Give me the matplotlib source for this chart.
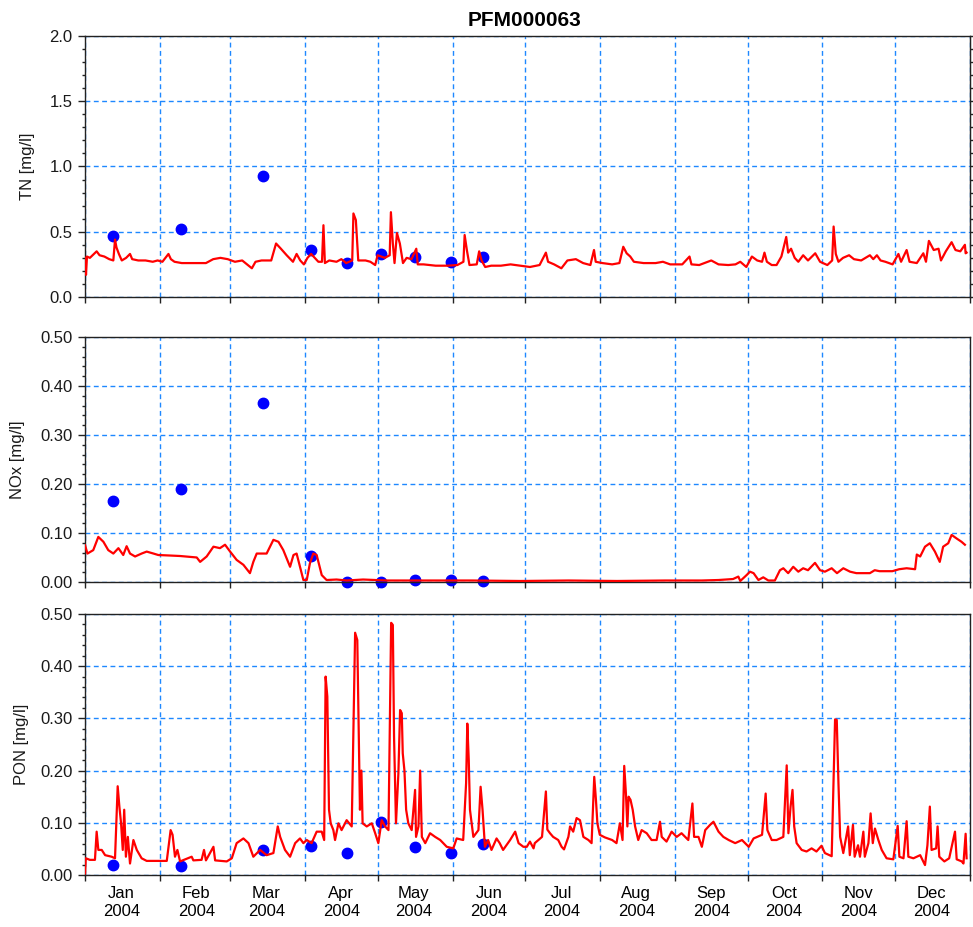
import numpy as np
import matplotlib
matplotlib.use("Agg")
from matplotlib import pyplot as plt
import matplotlib.dates as mdates
from matplotlib.ticker import MultipleLocator, FormatStrFormatter, NullFormatter

plt.rcParams['font.family'] = ['Liberation Sans', 'DejaVu Sans']
plt.rcParams['font.size'] = 12

START = np.datetime64('2004-01-01T00:00')

# measured samples (day of year offset, value)
sample_day = [11.5, 39.5, 73.5, 93.5, 108.5, 122.5, 136.5, 151.5, 164.5]
tn_obs = [0.47, 0.52, 0.93, 0.36, 0.26, 0.33, 0.305, 0.27, 0.305]
nox_obs = [0.165, 0.19, 0.365, 0.053, 0.0, 0.0, 0.004, 0.004, 0.002]
pon_obs = [0.019, 0.018, 0.048, 0.056, 0.043, 0.101, 0.054, 0.043, 0.06]

# model series: TN
tn_day = [0, 0.4, 0.8, 2, 4.8, 6, 8, 10, 11.7, 12.4, 13, 14, 15.2, 17, 18.6, 19.5, 22, 25, 28, 30,
          32, 34.5, 35.5, 37, 40, 45, 50, 53, 56, 59, 62, 65, 67, 69, 70.5, 73, 77, 79, 81, 83.4,
          86, 87.5, 89, 90.5, 92, 93.5, 95, 96.5, 98, 98.6, 99.2, 101, 104, 106, 108, 110.5, 111, 112, 113, 116,
          118, 120, 121, 124, 126, 126.5, 127.3, 128, 129, 130.2, 131.5, 133, 135, 137, 137.6, 140, 145, 150, 154, 156.5,
          157, 158, 159, 162, 163, 164, 165.5, 168, 172, 176, 180, 184, 188, 190.6, 191.5, 194, 197, 199.5, 203, 206,
          209, 210.5, 211.2, 214, 218, 221, 222.6, 224, 225.5, 227, 231, 236, 239, 242, 247, 250, 250.8, 254, 259, 262,
          266, 269, 271, 273.5, 275.8, 278, 280, 281, 282, 284, 286, 288, 290, 290.8, 292, 293.5, 295, 297, 299, 302,
          304, 307, 309, 309.6, 310.5, 311.6, 313.5, 316, 318, 321, 324.6, 326, 327.5, 329, 331, 334, 336.4, 337.5, 339.8, 341,
          344, 346.7, 347.8, 349, 351, 353, 354, 356, 358.4, 360, 362, 363.9, 364.2, 364.6]
tn_val = [0.30, 0.17, 0.31, 0.30, 0.35, 0.32, 0.31, 0.29, 0.28, 0.44, 0.38, 0.33, 0.28, 0.30, 0.33, 0.29, 0.28, 0.28, 0.27, 0.28,
          0.27, 0.33, 0.29, 0.27, 0.26, 0.26, 0.26, 0.29, 0.30, 0.29, 0.27, 0.28, 0.25, 0.22, 0.27, 0.28, 0.28, 0.41, 0.37, 0.32,
          0.27, 0.33, 0.28, 0.25, 0.30, 0.33, 0.30, 0.27, 0.27, 0.55, 0.26, 0.28, 0.27, 0.29, 0.26, 0.28, 0.64, 0.59, 0.28, 0.28,
          0.27, 0.245, 0.32, 0.30, 0.32, 0.65, 0.41, 0.26, 0.49, 0.41, 0.26, 0.30, 0.29, 0.37, 0.25, 0.25, 0.24, 0.24, 0.245, 0.27,
          0.475, 0.35, 0.245, 0.25, 0.35, 0.28, 0.23, 0.24, 0.24, 0.25, 0.24, 0.23, 0.245, 0.34, 0.27, 0.25, 0.22, 0.28, 0.29, 0.26,
          0.245, 0.36, 0.27, 0.26, 0.25, 0.26, 0.385, 0.335, 0.31, 0.27, 0.26, 0.26, 0.27, 0.25, 0.25, 0.31, 0.25, 0.245, 0.28, 0.25,
          0.245, 0.25, 0.27, 0.23, 0.31, 0.28, 0.27, 0.34, 0.27, 0.245, 0.245, 0.31, 0.46, 0.34, 0.37, 0.30, 0.27, 0.32, 0.28, 0.335,
          0.27, 0.245, 0.28, 0.54, 0.33, 0.27, 0.30, 0.32, 0.29, 0.28, 0.32, 0.29, 0.32, 0.28, 0.27, 0.25, 0.33, 0.27, 0.36, 0.27,
          0.26, 0.335, 0.27, 0.43, 0.36, 0.37, 0.28, 0.35, 0.42, 0.36, 0.35, 0.40, 0.335, 0.34]

# model series: NOx
nox_day = [0, 1, 3.4, 5.5, 7.6, 9.6, 11.7, 13.8, 15.8, 17.2, 18.6, 20.7, 23.4, 25.5, 28.3, 30.3, 35, 39.3, 46.2, 47.6,
           50.3, 53.1, 55.8, 57.9, 60, 62.7, 65.5, 68.2, 69.6, 71, 75.1, 77.9, 80, 82, 84.8, 86.2, 87.5, 88.9, 90.3, 91.7,
           93, 94.4, 95.8, 97.9, 99.9, 104, 108.2, 115, 125, 140, 160, 180, 200, 220, 240, 255, 262, 268, 270.2, 271,
           273.6, 275, 276.5, 278.5, 280.5, 282.6, 285.3, 287.4, 288.8, 290.8, 292.9, 295, 297, 299, 301.9, 304, 306, 308.8, 311, 313.6,
           316.4, 319, 324.6, 326.6, 328.6, 333.9, 336.7, 339.8, 343.3, 344, 345.4, 347.4, 349.4, 351.5, 353.5, 354.9, 357, 358.4, 360.4, 362.5,
           363.9]
nox_val = [0.075, 0.058, 0.065, 0.092, 0.082, 0.065, 0.058, 0.069, 0.055, 0.073, 0.058, 0.052, 0.058, 0.062, 0.058, 0.055, 0.054, 0.053, 0.050, 0.041,
           0.052, 0.072, 0.069, 0.076, 0.062, 0.045, 0.035, 0.018, 0.041, 0.058, 0.058, 0.086, 0.082, 0.065, 0.031, 0.055, 0.058, 0.031, 0.004, 0.004,
           0.038, 0.058, 0.055, 0.014, 0.004, 0.005, 0.003, 0.005, 0.003, 0.003, 0.003, 0.002, 0.003, 0.002, 0.003, 0.003, 0.004, 0.006, 0.011, 0.002,
           0.014, 0.021, 0.018, 0.004, 0.0095, 0.003, 0.003, 0.024, 0.028, 0.018, 0.031, 0.021, 0.028, 0.024, 0.039, 0.024, 0.021, 0.028, 0.018, 0.028,
           0.021, 0.018, 0.018, 0.024, 0.022, 0.022, 0.026, 0.028, 0.026, 0.056, 0.052, 0.072, 0.079, 0.062, 0.041, 0.072, 0.079, 0.096, 0.089, 0.082,
           0.076]

# model series: PON
pon_day = [0, 0.3, 2, 4.1, 4.8, 5.5, 6.9, 8.3, 11, 12.4, 13.5, 14.2, 14.9, 15.6, 16.2, 16.9, 17.7, 18.6, 20, 21.4,
           23.4, 25.5, 30, 33.8, 35.4, 36.2, 37.2, 38.2, 39.3, 44.1, 44.8, 48.2, 49.2, 50, 53.1, 53.8, 58.6, 60.7, 62.7, 65.5,
           67.6, 69.6, 72.4, 75.1, 77.9, 79.7, 80.7, 82.7, 84.8, 86.9, 88.9, 90.3, 91.7, 93.7, 95.8, 97.9, 98.9, 99.5, 100.2, 100.9,
           101.6, 102.7, 103.4, 104.8, 106.1, 108.2, 110.3, 111.7, 112.6, 113.7, 114.3, 114.8, 116.5, 118.6, 120, 121.3, 122.7, 124.1, 125.5, 126.6,
           127.3, 127.8, 128.6, 129.6, 130.3, 131, 131.4, 132.1, 132.8, 133.7, 135.1, 136.5, 136.9, 137.9, 138.6, 139.3, 140.7, 142.7, 144.8, 146.9,
           149.6, 152.3, 153.7, 156.4, 157.6, 158.1, 158.7, 159.2, 160.6, 162.7, 163.6, 164.4, 165.4, 166.7, 168.1, 170.2, 171.5, 172.9, 175.8, 177.9,
           179.3, 181.3, 182.7, 184, 185.5, 186, 187.5, 189, 190.6, 191.2, 192.3, 193.6, 195.7, 197.1, 198.1, 199.9, 200.6, 201.9, 203.3, 204.7,
           206.1, 208.2, 209.5, 210.6, 211.3, 211.9, 212.9, 215, 218, 219.8, 221.2, 222.3, 223, 223.7, 224.3, 224.8, 225.6, 226.5, 227.5, 228.8,
           230.2, 232.3, 234.3, 236.4, 237.8, 238.5, 240.5, 242.6, 244.7, 246.7, 249.5, 251.2, 251.9, 253.7, 255.1, 256.5, 258.5, 259.9, 262, 264,
           266.2, 268.9, 271.7, 274.5, 276.5, 280, 281.5, 282.2, 284, 286, 288.8, 290.2, 290.9, 291.8, 292.6, 293.3, 294.3, 296.4, 298.4, 300.5,
           302.5, 304.6, 306, 308.8, 310.2, 310.9, 311.6, 312.3, 313.6, 315.6, 316.3, 317.6, 318.3, 319.7, 320.5, 321.9, 322.5, 324, 324.9, 325.8,
           326.7, 328.1, 329.5, 331.5, 334.3, 336.1, 336.8, 338.5, 339.8, 340.5, 342.6, 345.4, 347.4, 348.4, 349.4, 350.1, 352, 352.6, 353.3, 355.4,
           357.4, 359.8, 360.5, 362.6, 363.3, 364.2, 364.6]
pon_val = [0.003, 0.032, 0.029, 0.029, 0.083, 0.048, 0.048, 0.038, 0.035, 0.032, 0.17, 0.131, 0.099, 0.048, 0.125, 0.035, 0.073, 0.022, 0.067, 0.048,
           0.032, 0.027, 0.027, 0.027, 0.086, 0.077, 0.035, 0.048, 0.026, 0.035, 0.028, 0.029, 0.048, 0.028, 0.054, 0.028, 0.026, 0.032, 0.061, 0.070,
           0.061, 0.035, 0.048, 0.038, 0.042, 0.093, 0.073, 0.048, 0.035, 0.061, 0.070, 0.061, 0.067, 0.061, 0.083, 0.083, 0.067, 0.38, 0.342, 0.125,
           0.099, 0.086, 0.067, 0.099, 0.086, 0.105, 0.093, 0.464, 0.45, 0.125, 0.20, 0.099, 0.093, 0.099, 0.08, 0.061, 0.105, 0.093, 0.086, 0.483,
           0.479, 0.265, 0.099, 0.195, 0.316, 0.31, 0.233, 0.20, 0.125, 0.099, 0.086, 0.163, 0.073, 0.093, 0.20, 0.073, 0.061, 0.08, 0.073, 0.067,
           0.054, 0.051, 0.07, 0.067, 0.176, 0.29, 0.22, 0.125, 0.073, 0.086, 0.169, 0.125, 0.054, 0.067, 0.048, 0.07, 0.061, 0.048, 0.067, 0.083,
           0.061, 0.054, 0.054, 0.064, 0.051, 0.061, 0.067, 0.073, 0.16, 0.087, 0.08, 0.073, 0.067, 0.054, 0.049, 0.073, 0.093, 0.083, 0.109, 0.105,
           0.073, 0.067, 0.061, 0.188, 0.144, 0.099, 0.077, 0.072, 0.067, 0.061, 0.099, 0.067, 0.209, 0.156, 0.093, 0.15, 0.144, 0.125, 0.093, 0.067,
           0.086, 0.08, 0.067, 0.067, 0.102, 0.073, 0.064, 0.083, 0.073, 0.08, 0.067, 0.137, 0.073, 0.073, 0.054, 0.086, 0.096, 0.102, 0.083, 0.073,
           0.067, 0.061, 0.067, 0.054, 0.07, 0.077, 0.156, 0.086, 0.067, 0.067, 0.073, 0.21, 0.08, 0.131, 0.163, 0.093, 0.061, 0.048, 0.045, 0.051,
           0.045, 0.056, 0.042, 0.036, 0.298, 0.297, 0.176, 0.073, 0.042, 0.093, 0.038, 0.096, 0.035, 0.057, 0.035, 0.083, 0.035, 0.061, 0.118, 0.061,
           0.089, 0.067, 0.048, 0.032, 0.030, 0.094, 0.035, 0.032, 0.103, 0.035, 0.032, 0.038, 0.019, 0.057, 0.131, 0.048, 0.051, 0.093, 0.035, 0.026,
           0.032, 0.083, 0.03, 0.026, 0.022, 0.079, 0.032]


def to_dates(days):
    mins = np.round(np.asarray(days) * 24 * 60).astype('timedelta64[m]')
    return START + mins


GRID_COL = '#1e88ff'
SPINE_COL = '#222222'

fig = plt.figure(figsize=(9.73, 9.27), dpi=100)
fig.text(0.539, 0.978, 'PFM000063', ha='center', va='center', fontsize=15, fontweight='bold')

axes_spec = [
    # rect, ylabel, ymax, major, minor, fmt, label x
    ([0.0874, 0.6796, 0.9095, 0.2816], 'TN [mg/l]', 2.0, 0.5, 0.1, '%.1f', -0.056),
    ([0.0874, 0.3722, 0.9095, 0.2643], 'NOx [mg/l]', 0.5, 0.1, 0.02, '%.2f', -0.068),
    ([0.0874, 0.0561, 0.9095, 0.2816], 'PON [mg/l]', 0.5, 0.1, 0.02, '%.2f', -0.063),
]
series = [(tn_day, tn_val, tn_obs), (nox_day, nox_val, nox_obs), (pon_day, pon_val, pon_obs)]

for i, (spec, ser) in enumerate(zip(axes_spec, series)):
    rect, ylab, ymax, maj, mnr, fmt, lx = spec
    ax = fig.add_axes(rect)
    d, v, obs = ser
    ax.plot(to_dates(sample_day), obs, 'o', color='#0000ff', markersize=7.5, zorder=2, clip_on=False)
    ax.plot(to_dates(d), v, '-', color='#ff0000', lw=1.6, zorder=3)

    ax.set_xlim(np.datetime64('2004-01-01'), np.datetime64('2005-01-01'))
    ax.set_ylim(0, ymax)
    ax.yaxis.set_major_locator(MultipleLocator(maj))
    ax.yaxis.set_minor_locator(MultipleLocator(mnr))
    ax.yaxis.set_major_formatter(FormatStrFormatter(fmt))

    ax.xaxis.set_major_locator(mdates.MonthLocator())
    ax.xaxis.set_major_formatter(NullFormatter())
    if i == 2:
        ax.xaxis.set_minor_locator(mdates.MonthLocator(bymonthday=16))
        ax.xaxis.set_minor_formatter(mdates.DateFormatter('%b\n%Y'))
        ax.tick_params(axis='x', which='minor', length=0, pad=8, labelsize=12)
    ax.tick_params(axis='x', which='major', direction='out', length=4.5, width=1, color=SPINE_COL)
    ax.tick_params(axis='y', which='major', direction='out', length=5, width=1, pad=4, color=SPINE_COL)
    ax.tick_params(axis='y', which='minor', direction='out', length=2.5, width=1, color=SPINE_COL)
    ax.tick_params(labelcolor='#1a1a1a')

    ax.grid(True, which='major', color=GRID_COL, linestyle=(0, (3.5, 2.5)), linewidth=1.0)
    ax.set_axisbelow(True)
    for s in ax.spines.values():
        s.set_color(SPINE_COL)
        s.set_linewidth(1.0)

    ax.set_ylabel(ylab, fontsize=12, color='#1a1a1a')
    ax.yaxis.set_label_coords(lx, 0.5)

    if i == 0:
        sec = ax.secondary_yaxis('right')
        sec.yaxis.set_major_locator(MultipleLocator(0.1))
        sec.yaxis.set_major_formatter(NullFormatter())
        sec.tick_params(direction='out', length=3.5, width=1, color=SPINE_COL)
        sec.spines['right'].set_color(SPINE_COL)

fig.savefig('out.png', dpi=100)
